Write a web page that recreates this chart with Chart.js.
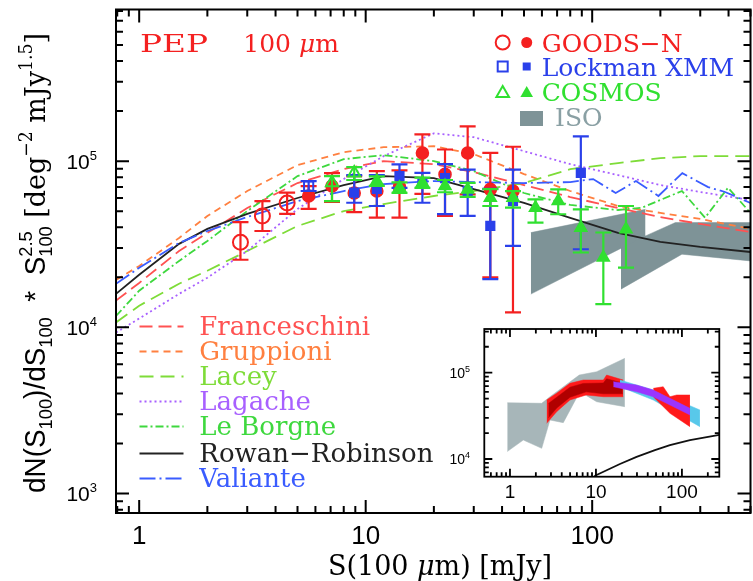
<!DOCTYPE html>
<html>
<head>
<meta charset="utf-8">
<script src="https://cdn.jsdelivr.net/npm/chart.js@4.4.0/dist/chart.umd.min.js"></script>
<style>
  html, body { margin: 0; padding: 0; background: #fff; overflow: hidden; }
  #wrap { position: relative; width: 760px; height: 581px; }
  #main { position: absolute; left: 0; top: 0; }
  #inset { position: absolute; left: 440px; top: 320px; }
</style>
</head>
<body>
<div id="wrap">
  <canvas id="main" width="760" height="581"></canvas>
  <canvas id="inset" width="290" height="190"></canvas>
</div>
<script>
// ---- data (S in mJy, N = dN/dS * S^2.5) ----

// GOODS-N
const goodsOpenS = [2.8, 3.5, 4.5];
const goodsOpenN = [32500, 46800, 56000];
const goodsOpenLo = [25500, 38000, 48100];
const goodsOpenHi = [43000, 57500, 64600];
const goodsS = [5.6, 7.1, 8.9, 11.2, 14.1, 17.8, 22.4, 28.2, 35.5, 44.7];
const goodsN = [61700, 70800, 64300, 66100, 70000, 112000, 83200, 112000, 67600, 66100];
const goodsLo = [51600, 56800, 49400, 45700, 45700, 63500, 46800, 63100, 20000, 12300];
const goodsHi = [70800, 84600, 81300, 87000, 88000, 145000, 117500, 162000, 112000, 122000];

// Lockman XMM
const lockOpenS = [5.6];
const lockOpenN = [70800];
const lockOpenLo = [66100];
const lockOpenHi = [75900];
const lockS = [8.9, 11.2, 14.1, 17.8, 22.4, 28.2, 35.5, 44.7, 89.1];
const lockN = [64600, 68000, 81300, 72900, 79000, 66000, 40800, 57500, 85000];
const lockLo = [56200, 53700, 69000, 56200, 48000, 46800, 19500, 30900, 29500];
const lockHi = [82400, 82400, 95500, 85000, 96000, 89000, 68000, 89000, 141000];

// COSMOS
const cosmosOpenS = [7.1, 8.9];
const cosmosOpenN = [74100, 84700];
const cosmosOpenLo = [57500, 77000];
const cosmosOpenHi = [81300, 92000];
const cosmosS = [11.2, 14.1, 17.8, 22.4, 28.2, 35.5, 44.7, 56.2, 70.8, 89.1, 112, 141];
const cosmosN = [75900, 69200, 74100, 70800, 67600, 60200, 60200, 52500, 57500, 39800, 26300, 38900];
const cosmosLo = [71000, 64500, 69000, 65000, 61000, 53700, 52500, 42700, 47900, 28200, 13800, 22900];
const cosmosHi = [81000, 74500, 79500, 77000, 74000, 67900, 66000, 58900, 67600, 51300, 37200, 53700];

// ISO (two grey regions, upper and lower edges)
const isoATopS = [53.6, 172];
const isoATopN = [37150, 51300];
const isoABotS = [53.6, 94, 172];
const isoABotN = [15850, 23400, 35500];
const isoBTopS = [134, 172, 233, 500];
const isoBTopN = [33100, 35500, 42700, 42700];
const isoBBotS = [134, 249, 500];
const isoBBotN = [16980, 27540, 25100];

// models
const modelS = [0.79, 1, 1.5, 2, 3, 5, 8, 12, 20, 30, 50, 80, 130, 200, 300, 500];
const franceschiniN = [14500, 18500, 28800, 37000, 52200, 73800, 89500, 100000, 95900, 85900, 71800, 60800, 52200, 46100, 41900, 37500];
const gruppioniN = [19300, 23400, 34500, 46800, 66100, 94600, 113200, 121300, 123000, 110200, 83600, 66100, 53700, 48800, 44900, 39100];
const laceyN = [10700, 13500, 18300, 21900, 28800, 40700, 50100, 55200, 61700, 66100, 73800, 89500, 97300, 104200, 107200, 107200];
const lagacheN = [9300, 11300, 15900, 19900, 28800, 51500, 78000, 107200, 147000, 139300, 114800, 95900, 82400, 71800, 65200, 58300];
const rowanN = [15900, 20700, 31800, 39100, 48100, 60000, 71800, 81300, 79100, 67900, 56000, 45500, 37000, 32700, 30500, 28400];
const leBorgneS = [0.79, 1, 1.5, 2, 3, 5, 8, 12, 20, 30, 50, 80, 130, 166, 249, 315, 398, 500];
const leBorgneN = [11700, 16600, 25100, 33100, 50100, 81300, 102800, 108600, 100000, 87100, 64300, 54500, 50800, 52500, 66100, 45700, 69200, 48800];
const valianteS = [0.79, 1, 1.5, 2, 3, 5, 8, 12, 20, 30, 50, 80, 101, 127, 156, 196, 250, 325, 386, 500];
const valianteN = [18300, 22800, 32200, 38000, 46100, 57500, 66100, 72800, 75900, 74800, 73800, 74800, 78000, 64300, 75900, 61700, 84700, 69800, 65200, 56000];

const modelNames = ['Franceschini', 'Gruppioni', 'Lacey', 'Lagache', 'Le Borgne', 'Rowan\u2212Robinson', 'Valiante'];
const xTickLabels = ['1', '10', '100'];
const yTickExp = ['3', '4', '5'];

// inset panel
const inGreyTopS = [0.93, 2.34, 2.92, 6.4, 10.2, 21.7];
const inGreyTopN = [44900, 44200, 52700, 94000, 102700, 146900];
const inGreyBotS = [0.93, 1.43, 2.34, 2.92, 4.17, 6.5, 10.2, 21.7];
const inGreyBotN = [12200, 16600, 13300, 28300, 26400, 60300, 46100, 40400];
const inRedTopS = [2.67, 3.49, 4.98, 7.12, 12.2, 13.3, 20.8];
const inRedTopN = [48300, 57700, 75300, 82300, 82300, 94000, 82300];
const inRedBotS = [2.67, 3.49, 4.98, 7.7, 12.2, 20.8];
const inRedBotN = [25900, 35300, 48300, 55200, 52700, 52700];
const inDarkTopS = [2.8, 3.5, 5, 7.1, 12.2, 13.3, 20.5];
const inDarkTopN = [44000, 52000, 68000, 75000, 76000, 85000, 76000];
const inDarkBotS = [2.8, 3.5, 5, 7.7, 12.2, 20.5];
const inDarkBotN = [30000, 39000, 52000, 60000, 57000, 57000];
const inCyanS = [19, 46.4, 162];
const inCyanTopN = [82300, 63100, 37000];
const inCyanBotN = [68800, 48300, 23700];
const inRed2TopS = [46.4, 60.6, 72.5, 86.8, 124];
const inRed2TopN = [65900, 68800, 52700, 55200, 55200];
const inRed2BotS = [46.4, 72.5, 124];
const inRed2BotN = [52700, 33900, 23700];
const inPurpleS = [15.9, 29.7, 46.4, 72.5, 124];
const inPurpleTopN = [78700, 72000, 63100, 50500, 38700];
const inPurpleBotN = [68800, 60300, 52700, 42300, 32400];
const inLineS = [9.6, 19, 29.7, 48.5, 72.5, 124, 272];
const inLineN = [6350, 8750, 10600, 12700, 14500, 16600, 19000];

// ---- colours ----
const RED = '#f42020', BLUE = '#2a40ea', GREEN = '#30e030', GREY = '#7e9397';
const modelColors = ['#ff5252', '#ff8040', '#7edc38', '#a860ff', '#3ed83e', '#222222', '#3a5cff'];
const modelDash = [[13, 6], [7, 5], [14, 7], [2, 3], [8, 3, 2, 3], [], [16, 4, 2, 4]];

const pts = (xs, ys) => xs.map((v, i) => ({ x: v, y: ys[i] }));

function lineSet(xs, ys, color, dash, order) {
  return { data: pts(xs, ys), showLine: true, borderColor: color, borderWidth: 1.8,
    borderDash: dash, pointRadius: 0, pointHoverRadius: 0, fill: false, order: order || 10 };
}
function bandSet(xs, ys, color, fill, order) {
  return { data: pts(xs, ys), showLine: true, borderColor: color, borderWidth: 0.5,
    backgroundColor: color, pointRadius: 0, pointHoverRadius: 0, fill: fill, order: order };
}
function markSet(xs, ys, lo, hi, color, style, r, open, order) {
  return { data: pts(xs, ys), errLow: lo, errHigh: hi, pointStyle: style, pointRadius: r,
    pointHoverRadius: r, borderColor: color, backgroundColor: open ? 'rgba(0,0,0,0)' : color,
    borderWidth: 2, order: order };
}

// error bars, drawn just before the points of their dataset
const errorBars = {
  id: 'errorBars',
  beforeDatasetDraw(chart, args) {
    const ds = chart.data.datasets[args.index];
    if (!ds.errLow) return;
    const { ctx, chartArea: a } = chart;
    const xs = chart.scales.x, ys = chart.scales.y;
    ctx.save();
    ctx.beginPath();
    ctx.rect(a.left, a.top, a.right - a.left, a.bottom - a.top);
    ctx.clip();
    ctx.strokeStyle = ds.borderColor;
    ctx.lineWidth = 2.2;
    ctx.beginPath();
    ds.data.forEach((p, i) => {
      const px = xs.getPixelForValue(p.x);
      const y1 = ys.getPixelForValue(ds.errLow[i]);
      const y2 = ys.getPixelForValue(ds.errHigh[i]);
      ctx.moveTo(px, y1); ctx.lineTo(px, y2);
      ctx.moveTo(px - 8, y1); ctx.lineTo(px + 8, y1);
      ctx.moveTo(px - 8, y2); ctx.lineTo(px + 8, y2);
    });
    ctx.stroke();
    ctx.restore();
  }
};

function drawTicks(chart, major, minor, lw) {
  const { ctx, chartArea: a } = chart;
  const xs = chart.scales.x, ys = chart.scales.y;
  ctx.save();
  ctx.strokeStyle = '#000';
  ctx.lineWidth = lw;
  ctx.beginPath();
  for (let d = -1; d <= 3; d++) {
    for (let m = 1; m < 10; m++) {
      const v = m * Math.pow(10, d);
      if (v < xs.min || v > xs.max) continue;
      const p = xs.getPixelForValue(v);
      const len = m === 1 ? major : minor;
      ctx.moveTo(p, a.bottom); ctx.lineTo(p, a.bottom - len);
      ctx.moveTo(p, a.top); ctx.lineTo(p, a.top + len);
    }
  }
  for (let d = 2; d <= 6; d++) {
    for (let m = 1; m < 10; m++) {
      const v = m * Math.pow(10, d);
      if (v < ys.min || v > ys.max) continue;
      const p = ys.getPixelForValue(v);
      const len = m === 1 ? major : minor;
      ctx.moveTo(a.left, p); ctx.lineTo(a.left + len, p);
      ctx.moveTo(a.right, p); ctx.lineTo(a.right - len, p);
    }
  }
  ctx.stroke();
  ctx.strokeRect(a.left, a.top, a.right - a.left, a.bottom - a.top);
  ctx.restore();
}

// draw a list of text runs one after another, returns the width
function drawRuns(ctx, parts, x, y, draw) {
  let cx = x;
  parts.forEach(p => {
    ctx.font = p.f;
    if (draw) {
      ctx.fillStyle = p.c || '#000';
      ctx.fillText(p.t, cx, y + (p.dy || 0));
    }
    const w = ctx.measureText(p.t).width;
    if (!p.stack) cx += w;
  });
  return cx - x;
}

function powerLabel(ctx, exp, xRight, y, big, small, rise) {
  ctx.font = small;
  const ws = ctx.measureText(exp).width;
  ctx.font = big;
  const wb = ctx.measureText('10').width;
  ctx.fillStyle = '#000';
  ctx.textAlign = 'left';
  ctx.fillText('10', xRight - ws - wb, y);
  ctx.font = small;
  ctx.fillText(exp, xRight - ws, y - rise);
}

function fitText(ctx, s, x, y, font, color, width) {
  ctx.save();
  ctx.font = font;
  ctx.fillStyle = color;
  const w = ctx.measureText(s).width;
  ctx.translate(x, y);
  ctx.scale(width / w, 1);
  ctx.fillText(s, 0, 0);
  ctx.restore();
}

const mainDecor = {
  id: 'mainDecor',
  afterDraw(chart) {
    const { ctx } = chart;
    const xs = chart.scales.x, ys = chart.scales.y;
    drawTicks(chart, 13, 7, 2);
    ctx.save();
    ctx.textBaseline = 'alphabetic';

    // tick labels
    ctx.font = '26px "Liberation Sans"';
    ctx.fillStyle = '#000';
    ctx.textAlign = 'center';
    xTickLabels.forEach(t => ctx.fillText(t, xs.getPixelForValue(+t), 543.5));
    yTickExp.forEach(e => powerLabel(ctx, e, 97, ys.getPixelForValue(Math.pow(10, +e)) + 7.5,
      '21px "Liberation Sans"', '13px "Liberation Sans"', 9));

    // x title
    ctx.textAlign = 'left';
    const xt = [
      { t: 'S(100 ', f: '27px "DejaVu Serif"' },
      { t: '\u03bc', f: 'italic 27px "DejaVu Serif"' },
      { t: 'm) [mJy]', f: '27px "DejaVu Serif"' }
    ];
    const xw = drawRuns(ctx, xt, 0, 0, false);
    drawRuns(ctx, xt, 440 - xw / 2, 575, true);

    // y title (rotated)
    const sans = '29px "Liberation Sans"', sub = '19px "Liberation Sans"';
    const serif = '28px "DejaVu Serif"', sup = '18px "DejaVu Serif"';
    const yt = [
      { t: 'dN(S', f: sans }, { t: '100', f: sub, dy: 7 }, { t: ')/dS', f: sans },
      { t: '100', f: sub, dy: 7 }, { t: '  *  ', f: sans }, { t: 'S', f: sans },
      { t: '2.5', f: sub, dy: -13, stack: true }, { t: '100', f: sub, dy: 7 },
      { t: ' [deg', f: serif }, { t: '\u22122', f: sup, dy: -13 }, { t: ' mJy', f: serif },
      { t: '1.5', f: sup, dy: -13 }, { t: ']', f: serif }
    ];
    const yw = drawRuns(ctx, yt, 0, 0, false);
    ctx.save();
    ctx.translate(45, 263);
    ctx.rotate(-Math.PI / 2);
    ctx.scale(460 / yw, 1);
    drawRuns(ctx, yt, -yw / 2, 0, true);
    ctx.restore();

    // panel label
    fitText(ctx, 'PEP', 140, 51.7, '25px "DejaVu Serif"', RED, 68);
    const pl = [
      { t: '100 ', f: '25px "DejaVu Serif"', c: RED },
      { t: '\u03bc', f: 'italic 25px "DejaVu Serif"', c: RED },
      { t: 'm', f: '25px "DejaVu Serif"', c: RED }
    ];
    drawRuns(ctx, pl, 243.3, 51.7, true);

    // data legend
    const lf = '25px "DejaVu Serif"';
    const rows = [
      { y: 51.5, c: RED, s: 'circle', t: 'GOODS\u2212N' },
      { y: 75.5, c: BLUE, s: 'rect', t: 'Lockman XMM' },
      { y: 101, c: GREEN, s: 'triangle', t: 'COSMOS' }
    ];
    rows.forEach(r => {
      const cy = r.y - 9;
      ctx.lineWidth = 2;
      ctx.strokeStyle = r.c;
      ctx.fillStyle = r.c;
      if (r.s === 'circle') {
        ctx.beginPath(); ctx.arc(502.7, cy, 7, 0, 2 * Math.PI); ctx.stroke();
        ctx.beginPath(); ctx.arc(526.7, cy, 5.5, 0, 2 * Math.PI); ctx.fill();
      } else if (r.s === 'rect') {
        ctx.strokeRect(497.7, cy - 5, 10, 10);
        ctx.fillRect(522.7, cy - 4, 8, 8);
      } else {
        ctx.beginPath(); ctx.moveTo(502.7, cy - 6); ctx.lineTo(509, cy + 5); ctx.lineTo(496.4, cy + 5); ctx.closePath(); ctx.stroke();
        ctx.beginPath(); ctx.moveTo(526.7, cy - 6); ctx.lineTo(533, cy + 5); ctx.lineTo(520.4, cy + 5); ctx.closePath(); ctx.fill();
      }
      ctx.font = lf;
      ctx.fillText(r.t, 541.7, r.y);
    });
    ctx.fillStyle = GREY;
    ctx.fillRect(520, 111, 23, 15);
    ctx.fillStyle = '#8aa0a4';
    ctx.font = lf;
    ctx.fillText('ISO', 555, 125.5);

    // model legend
    const base = [335, 360, 385, 410, 435, 462, 487];
    modelNames.forEach((n, i) => {
      const cy = base[i] - 8.5;
      ctx.strokeStyle = modelColors[i];
      ctx.lineWidth = 2;
      ctx.setLineDash(modelDash[i]);
      ctx.beginPath(); ctx.moveTo(139.5, cy); ctx.lineTo(183.5, cy); ctx.stroke();
      ctx.setLineDash([]);
      ctx.fillStyle = modelColors[i];
      ctx.font = '26px "DejaVu Serif"';
      ctx.fillText(n, 199.3, base[i]);
    });
    ctx.restore();
  }
};

const mainChart = new Chart(document.getElementById('main'), {
  type: 'scatter',
  data: {
    datasets: [
      markSet(cosmosOpenS, cosmosOpenN, cosmosOpenLo, cosmosOpenHi, GREEN, 'triangle', 7, true, 1),
      markSet(cosmosS, cosmosN, cosmosLo, cosmosHi, GREEN, 'triangle', 6.5, false, 1),
      markSet(lockOpenS, lockOpenN, lockOpenLo, lockOpenHi, BLUE, 'rect', 6.5, true, 2),
      markSet(lockS, lockN, lockLo, lockHi, BLUE, 'rect', 5.8, false, 2),
      markSet(goodsOpenS, goodsOpenN, goodsOpenLo, goodsOpenHi, RED, 'circle', 7.5, true, 3),
      markSet(goodsS, goodsN, goodsLo, goodsHi, RED, 'circle', 5.8, false, 3),
      lineSet(valianteS, valianteN, modelColors[6], modelDash[6]),
      lineSet(modelS, rowanN, modelColors[5], modelDash[5]),
      lineSet(leBorgneS, leBorgneN, modelColors[4], modelDash[4]),
      lineSet(modelS, lagacheN, modelColors[3], modelDash[3]),
      lineSet(modelS, laceyN, modelColors[2], modelDash[2]),
      lineSet(modelS, gruppioniN, modelColors[1], modelDash[1]),
      lineSet(modelS, franceschiniN, modelColors[0], modelDash[0]),
      bandSet(isoATopS, isoATopN, GREY, '+1', 20),
      bandSet(isoABotS, isoABotN, GREY, false, 20),
      bandSet(isoBTopS, isoBTopN, GREY, '+1', 21),
      bandSet(isoBBotS, isoBBotN, GREY, false, 21)
    ]
  },
  options: {
    responsive: false,
    animation: false,
    devicePixelRatio: 1,
    layout: { padding: { left: 116, top: 8, right: 4, bottom: 68 } },
    scales: {
      x: { type: 'logarithmic', min: 0.79, max: 500, display: false },
      y: { type: 'logarithmic', min: 764, max: 817000, display: false }
    },
    plugins: { legend: { display: false }, tooltip: { enabled: false } }
  },
  plugins: [errorBars, mainDecor]
});

// ---- inset ----
const insetDecor = {
  id: 'insetDecor',
  beforeDatasetsDraw(chart) {
    const { ctx, chartArea: a } = chart;
    ctx.save();
    ctx.fillStyle = '#fff';
    ctx.fillRect(a.left, a.top, a.right - a.left, a.bottom - a.top);
    ctx.restore();
  },
  afterDraw(chart) {
    const { ctx } = chart;
    const xs = chart.scales.x, ys = chart.scales.y;
    drawTicks(chart, 8, 4.5, 1.8);
    ctx.save();
    ctx.font = '19px "Liberation Sans"';
    ctx.fillStyle = '#000';
    ctx.textAlign = 'center';
    xTickLabels.forEach(t => ctx.fillText(t, xs.getPixelForValue(+t), 178));
    ['4', '5'].forEach(e => powerLabel(ctx, e, 30, ys.getPixelForValue(Math.pow(10, +e)) + 5,
      '14px "Liberation Sans"', '9px "Liberation Sans"', 6));
    ctx.restore();
  }
};

const insetChart = new Chart(document.getElementById('inset'), {
  type: 'scatter',
  data: {
    datasets: [
      lineSet(inLineS, inLineN, '#111', [], 1),
      bandSet(inPurpleS, inPurpleTopN, '#9a35ff', '+1', 2),
      bandSet(inPurpleS, inPurpleBotN, '#9a35ff', false, 2),
      bandSet(inRed2TopS, inRed2TopN, '#ff1a1a', '+1', 3),
      bandSet(inRed2BotS, inRed2BotN, '#ff1a1a', false, 3),
      bandSet(inCyanS, inCyanTopN, '#58c8ea', '+1', 4),
      bandSet(inCyanS, inCyanBotN, '#58c8ea', false, 4),
      bandSet(inDarkTopS, inDarkTopN, '#b00000', '+1', 5),
      bandSet(inDarkBotS, inDarkBotN, '#b00000', false, 5),
      bandSet(inRedTopS, inRedTopN, '#ff1a1a', '+1', 6),
      bandSet(inRedBotS, inRedBotN, '#ff1a1a', false, 6),
      bandSet(inGreyTopS, inGreyTopN, '#a7b6b9', '+1', 7),
      bandSet(inGreyBotS, inGreyBotN, '#a7b6b9', false, 7)
    ]
  },
  options: {
    responsive: false,
    animation: false,
    devicePixelRatio: 1,
    layout: { padding: { left: 44.3, top: 9, right: 10.7, bottom: 33.3 } },
    scales: {
      x: { type: 'logarithmic', min: 0.503, max: 272, display: false },
      y: { type: 'logarithmic', min: 6240, max: 321000, display: false }
    },
    plugins: { legend: { display: false }, tooltip: { enabled: false } }
  },
  plugins: [insetDecor]
});
</script>
</body>
</html>
